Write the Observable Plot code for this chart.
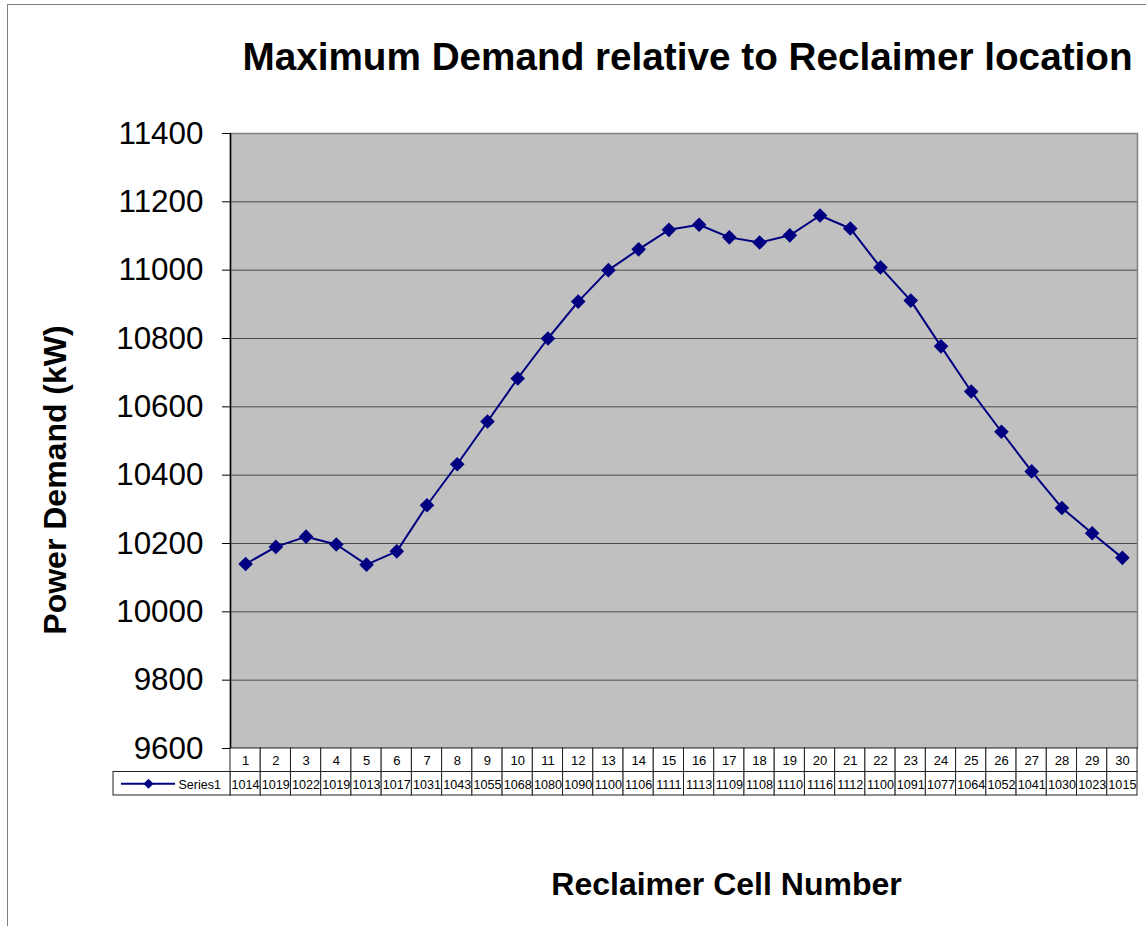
<!DOCTYPE html>
<html>
<head>
<meta charset="utf-8">
<script src="https://cdn.jsdelivr.net/npm/d3@7"></script>
<script src="https://cdn.jsdelivr.net/npm/@observablehq/plot@0.6"></script>
<style>
  html, body { margin: 0; padding: 0; background: #fff; }
  body { width: 1146px; height: 926px; position: relative; overflow: hidden; font-family: "Liberation Sans", Arial, sans-serif; }
  #border { position: absolute; left: 7px; top: 4px; width: 1200px; height: 1000px; border: 1px solid #808080; box-sizing: border-box; }
  .title { position: absolute; white-space: nowrap; font-weight: bold; line-height: 1; color: #000; }
  #title { left: 687.5px; top: 38.4px; font-size: 38.7px; transform: translateX(-50%); }
  #xtitle { left: 726.5px; top: 868px; font-size: 32px; transform: translateX(-50%); }
  #ytitle { left: 54.5px; top: 480px; font-size: 32px; transform: translate(-50%, -50%) rotate(-90deg); }
  #main, #table { position: absolute; left: 0; }
  #main { top: 0; }
  #table { top: 748px; }
</style>
</head>
<body>
<div id="border"></div>
<div id="title" class="title">Maximum Demand relative to Reclaimer location</div>
<div id="xtitle" class="title">Reclaimer Cell Number</div>
<div id="main"></div>
<div id="table"></div>
<div id="ytitle" class="title"></div>
<script>
const cellNumbers = [1,2,3,4,5,6,7,8,9,10,11,12,13,14,15,16,17,18,19,20,21,22,23,24,25,26,27,28,29,30];
const demandKW = [10140,10190,10220,10197,10138,10177,10312,10432,10557,10683,10800,10908,11000,11061,11118,11133,11096,11081,11102,11160,11122,11008,10911,10777,10645,10527,10411,10304,10230,10158];
const yTicks = [9600,9800,10000,10200,10400,10600,10800,11000,11200,11400];
const seriesName = "Series1";
const yLabel = "Power Demand (kW)";

document.getElementById("ytitle").textContent = yLabel;

const data = cellNumbers.map((c, i) => ({cell: c, value: demandKW[i]}));
const navy = "#000080";
const font = "'Liberation Sans', Arial, sans-serif";

const main = Plot.plot({
  width: 1146,
  height: 749,
  marginLeft: 230,
  marginRight: 9,
  marginTop: 133,
  marginBottom: 1,
  style: {fontFamily: font, fontSize: "31.4px", color: "#000", background: "transparent", overflow: "visible"},
  x: {domain: [0.5, 30.5], axis: null},
  y: {domain: [9600, 11400]},
  marks: [
    Plot.frame({fill: "#c0c0c0", stroke: null}),
    Plot.ruleY(yTicks.slice(1, -1), {stroke: "#4a4a4a", strokeWidth: 1}),
    Plot.frame({stroke: "#808080", strokeWidth: 1.5}),
    Plot.ruleX([0.5], {stroke: "#000", strokeWidth: 1.5}),
    Plot.axisY({ticks: yTicks, tickFormat: d => String(d), tickSize: 8, tickPadding: 19,
      label: null, stroke: "#000"}),
    Plot.line(data, {x: "cell", y: "value", stroke: navy, strokeWidth: 2}),
    Plot.dot(data, {x: "cell", y: "value", symbol: "diamond2", r: 6.6, fill: navy, stroke: null})
  ]
});
document.getElementById("main").appendChild(main);

const table = Plot.plot({
  width: 1146,
  height: 48,
  marginLeft: 230,
  marginRight: 9,
  marginTop: 0,
  marginBottom: 1,
  style: {fontFamily: font, fontSize: "13px", color: "#000", background: "transparent", overflow: "visible"},
  x: {domain: [0.5, 30.5], axis: null},
  y: {domain: [0, 2], reverse: true, axis: null},
  marks: [
    Plot.rect(cellNumbers, {x1: d => d - 0.5, x2: d => d + 0.5, y1: 0, y2: 1, stroke: "#222", fill: "white", strokeWidth: 1}),
    Plot.rect(cellNumbers, {x1: d => d - 0.5, x2: d => d + 0.5, y1: 1, y2: 2, stroke: "#222", fill: "white", strokeWidth: 1}),
    Plot.rect([seriesName], {x1: 0.5, x2: 0.5, y1: 1, y2: 2, insetLeft: -117, stroke: "#222", fill: "white", strokeWidth: 1}),
    Plot.text(cellNumbers, {x: d => d, y: 0.5, text: d => String(d), fontSize: 13, dy: 1}),
    Plot.text(data, {x: "cell", y: 1.5, text: d => String(d.value).slice(0, 4), fontSize: 12.6, dy: 1}),
    Plot.ruleY([1.5], {x1: 0.5, x2: 0.5, insetLeft: -109, insetRight: 55, stroke: navy, strokeWidth: 2}),
    Plot.dot([seriesName], {x: 0.5, y: 1.5, dx: -82, symbol: "diamond2", r: 4.5, fill: navy, stroke: null}),
    Plot.text([seriesName], {x: 0.5, y: 1.5, dx: -52, text: d => d, textAnchor: "start", fontSize: 12.5, dy: 1})
  ]
});
document.getElementById("table").appendChild(table);
</script>
</body>
</html>
